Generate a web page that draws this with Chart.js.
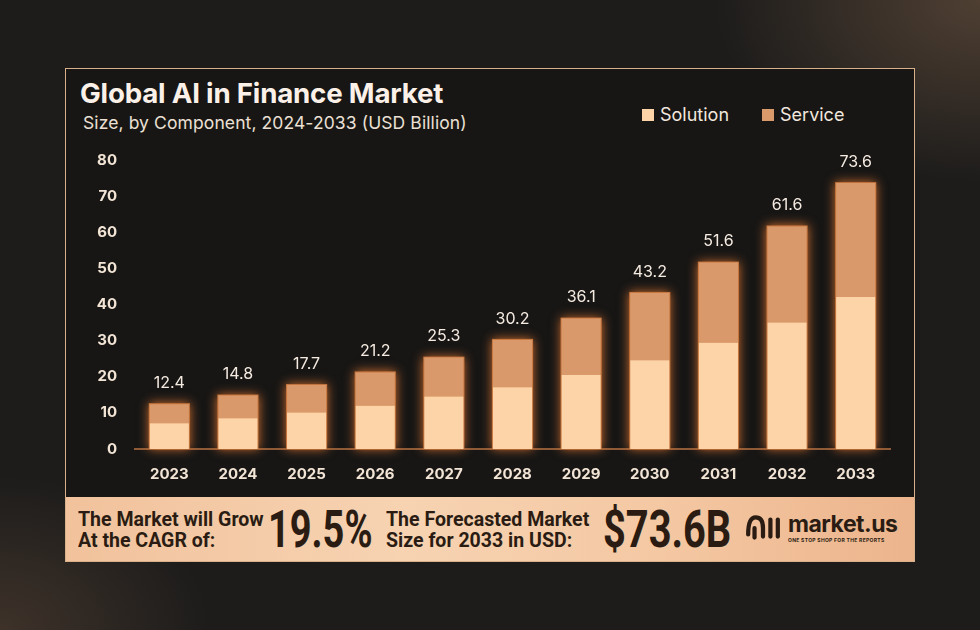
<!DOCTYPE html>
<html>
<head>
<meta charset="utf-8">
<script src="https://cdn.jsdelivr.net/npm/chart.js@4.4.1/dist/chart.umd.min.js"></script>
<style>
  html, body { margin: 0; padding: 0; }
  body {
    width: 980px; height: 630px; overflow: hidden; position: relative;
    background:
      radial-gradient(ellipse 380px 260px at 100% 0%, rgba(120,92,70,0.55), rgba(0,0,0,0) 70%),
      radial-gradient(ellipse 300px 220px at 0% 100%, rgba(95,72,56,0.5), rgba(0,0,0,0) 70%),
      #1d1c1b;
    font-family: "Inter", "Noto Sans", sans-serif;
  }
  #box {
    position: absolute; left: 65px; top: 68px; width: 848px; height: 492px;
    border: 1.5px solid #d8b08a; background: #171615;
  }
  #title {
    position: absolute; left: 80px; top: 76px; color: #fbf1e8;
    font: 700 27.7px "Inter", sans-serif; letter-spacing: -0.2px;
  }
  #subtitle {
    position: absolute; left: 83px; top: 112px; color: #ece0d4;
    font: 400 17.5px "Inter", sans-serif; letter-spacing: 0.1px;
  }
  #legend {
    position: absolute; left: 642px; top: 104px; color: #f2e8de;
    font: 400 18px "Inter", sans-serif; display: flex; gap: 33px;
  }
  #legend .item { display: flex; align-items: center; }
  #legend .sw { width: 12px; height: 12px; margin-right: 6px; }
  #band {
    position: absolute; left: 66px; top: 497px; width: 848px; height: 64px;
    background: linear-gradient(90deg, #f1c29c 0%, #f7d3b2 40%, #f4c8a3 70%, #ecb48c 100%);
    color: #2a1c12;
  }
  .cond { position: absolute; transform-origin: left center; white-space: nowrap; font-family: "Roboto", sans-serif; }
  .small { font-weight: 700; font-size: 21px; line-height: 21px; transform: scaleX(0.93); }
  .big { font-weight: 700; font-size: 51px; line-height: 51px; }
  #logo { position: absolute; left: 679px; top: 14px; display: flex; align-items: center; }
  #logo .name { font: 700 23px "Inter", sans-serif; color: #2a1c12; letter-spacing: -0.5px; line-height: 25px; }
  #logo .tag { font: 700 5px "Inter", sans-serif; color: #2a1c12; letter-spacing: 0.3px; }
  #c { position: absolute; left: 0; top: 0; }
</style>
</head>
<body>
<div id="box"></div>
<div id="title">Global AI in Finance Market</div>
<div id="subtitle">Size, by Component, 2024-2033 (USD Billion)</div>
<div id="legend"></div>
<canvas id="c" width="980" height="630"></canvas>
<div id="band">
  <div class="cond small" style="left:12px; top:12px;">The Market will Grow<br>At the CAGR of:</div>
  <div class="cond big" style="left:202px; top:7px; transform: scaleX(0.745);">19.5%</div>
  <div class="cond small" style="left:320px; top:12px;">The Forecasted Market<br>Size for 2033 in USD:</div>
  <div class="cond big" style="left:537px; top:7px; transform: scaleX(0.78);">$73.6B</div>
  <div id="logo">
    <svg width="36" height="32" viewBox="0 0 34 30">
      <path d="M3 22 Q3 6 10 6 Q17 6 17 16 L17 24" fill="none" stroke="#2a1c12" stroke-width="4" stroke-linecap="round"/>
      <path d="M9 16 L9 25" stroke="#2a1c12" stroke-width="4" stroke-linecap="round"/>
      <path d="M24 8 L24 24" stroke="#2a1c12" stroke-width="4" stroke-linecap="round"/>
      <path d="M31 8 L31 24" stroke="#2a1c12" stroke-width="4" stroke-linecap="round"/>
    </svg>
    <div style="margin-left:7px;">
      <div class="name">market.us</div>
      <div class="tag">ONE STOP SHOP FOR THE REPORTS</div>
    </div>
  </div>
</div>
<script>
const years = ["2023", "2024", "2025", "2026", "2027", "2028", "2029", "2030", "2031", "2032", "2033"];
const solution = [7.1, 8.5, 10.1, 12.0, 14.5, 17.1, 20.5, 24.6, 29.4, 35.0, 42.1];
const service = [5.3, 6.3, 7.6, 9.2, 10.8, 13.1, 15.6, 18.6, 22.2, 26.6, 31.5];
const totals = ["12.4", "14.8", "17.7", "21.2", "25.3", "30.2", "36.1", "43.2", "51.6", "61.6", "73.6"];
const yTicks = [0, 10, 20, 30, 40, 50, 60, 70, 80];

const tickFont = { family: "Inter", size: 15, weight: "700" };

// glow behind each stacked bar
const glow = {
  id: "glow",
  beforeDatasetsDraw(chart) {
    const ctx = chart.ctx;
    const top = chart.getDatasetMeta(1).data;
    const bot = chart.getDatasetMeta(0).data;
    ctx.save();
    ctx.shadowColor = "rgba(226,120,50,0.9)";
    ctx.shadowBlur = 10;
    ctx.fillStyle = "#c8773f";
    for (let i = 0; i < top.length; i++) {
      const t = top[i], b = bot[i];
      const w = t.width;
      ctx.fillRect(t.x - w / 2 - 1, t.y - 1, w + 2, b.base - t.y + 1);
    }
    ctx.restore();
  }
};

// total labels above bars
const totalLabels = {
  id: "totalLabels",
  afterDatasetsDraw(chart) {
    const ctx = chart.ctx;
    const top = chart.getDatasetMeta(1).data;
    ctx.save();
    ctx.fillStyle = "#f5ebe1";
    ctx.font = "400 16px Inter";
    ctx.textAlign = "center";
    ctx.textBaseline = "middle";
    top.forEach((el, i) => {
      ctx.fillText(totals[i], el.x, el.y - 21);
    });
    ctx.restore();
  }
};

const chart = new Chart(document.getElementById("c"), {
  type: "bar",
  data: {
    labels: years,
    datasets: [
      { label: "Solution", data: solution, backgroundColor: "#fdd4a7", borderWidth: 0 },
      { label: "Service", data: service, backgroundColor: "#d9996a", borderWidth: 0 }
    ]
  },
  options: {
    responsive: false,
    animation: false,
    layout: { padding: { left: 85, right: 90, top: 160, bottom: 141 } },
    datasets: { bar: { categoryPercentage: 1.0, barPercentage: 0.57 } },
    plugins: { legend: { display: false }, tooltip: { enabled: false } },
    scales: {
      x: {
        stacked: true,
        grid: { display: false },
        border: { display: true, color: "#8f5b37", width: 2 },
        ticks: { color: "#f3e5d6", font: tickFont, padding: 8 },
        afterFit(s) { s.height = 40; }
      },
      y: {
        stacked: true,
        min: 0, max: 80,
        grid: { display: false },
        border: { display: false },
        afterBuildTicks(s) { s.ticks = yTicks.map(v => ({ value: v })); },
        ticks: { color: "#f3e5d6", font: tickFont, padding: 10 },
        afterFit(s) { s.width = 50; }
      }
    }
  },
  plugins: [glow, totalLabels]
});

// html legend from datasets
const leg = document.getElementById("legend");
chart.data.datasets.forEach(ds => {
  const item = document.createElement("div");
  item.className = "item";
  item.innerHTML = '<span class="sw" style="background:' + ds.backgroundColor + '"></span>' + ds.label;
  leg.appendChild(item);
});
</script>
</body>
</html>
